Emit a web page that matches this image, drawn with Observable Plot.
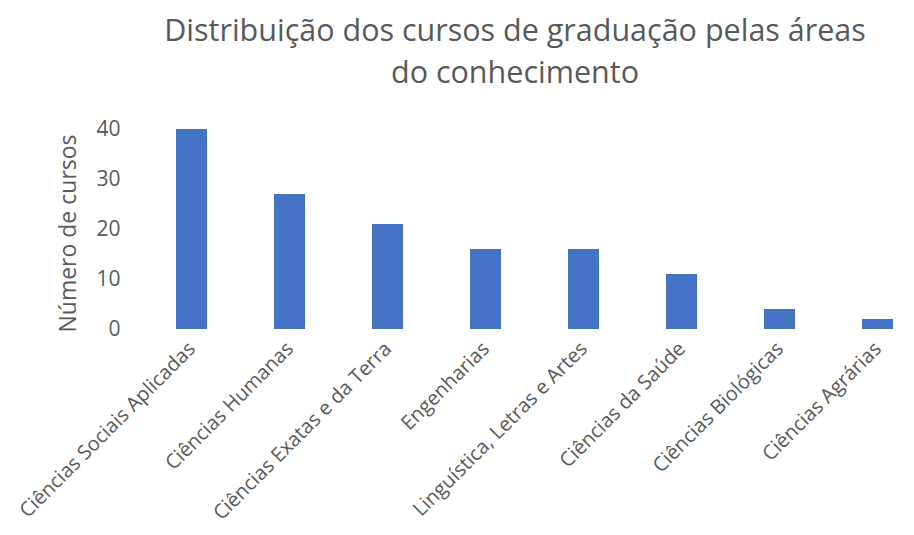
<!DOCTYPE html>
<html>
<head>
<meta charset="utf-8">
<script src="https://cdn.jsdelivr.net/npm/d3@7"></script>
<script src="https://cdn.jsdelivr.net/npm/@observablehq/plot@0.6"></script>
<style>
  html, body { margin: 0; padding: 0; background: #fff; }
  #wrap { width: 914px; height: 535px; overflow: hidden; position: relative; }
  #title { position: absolute; left: 0; top: 0; width: 1030px; height: 100px; text-align: center;
    font-family: "Open Sans", sans-serif; font-size: 30.5px; line-height: 42px; color: #595959; padding-top: 8px; box-sizing: border-box; }
  #chart { position: absolute; left: 0; top: 100px; }
</style>
</head>
<body>
<div id="wrap">
  <div id="title">Distribuição dos cursos de graduação pelas áreas<br>do conhecimento</div>
  <div id="chart"></div>
</div>
<script>
const categories = ["Ciências Sociais Aplicadas", "Ciências Humanas", "Ciências Exatas e da Terra", "Engenharias", "Linguística, Letras e Artes", "Ciências da Saúde", "Ciências Biológicas", "Ciências Agrárias"];
const values = [40, 27, 21, 16, 16, 11, 4, 2];
const yTicks = [0, 10, 20, 30, 40];

const data = categories.map((c, i) => ({category: c, value: values[i]}));

const chart = Plot.plot({
  width: 914,
  height: 435,
  marginTop: 29,
  marginBottom: 206,
  marginLeft: 142,
  marginRight: 0,
  style: {fontFamily: "Open Sans, sans-serif", color: "#595959", background: "#fff", overflow: "visible"},
  x: {domain: categories, range: [142, 926], paddingInner: 0.684, paddingOuter: 0.342, label: null},
  y: {domain: [0, 40], ticks: yTicks, label: null},
  marks: [
    Plot.ruleY(yTicks, {stroke: "#D9D9D9", strokeWidth: 1.5, x1: 142, x2: 926}),
    Plot.barY(data, {x: "category", y: "value", fill: "#4472C4"}),
    Plot.axisY({ticks: yTicks, tickSize: 0, tickPadding: 22, fontSize: 21, fill: "#595959", label: null}),
    Plot.axisX({tickSize: 0, tickRotate: -45, tickPadding: 16, fontSize: 20, fill: "#595959", label: null}),
    Plot.text(["Número de cursos"], {frameAnchor: "left", textAnchor: "middle", dx: -74, dy: 4, rotate: -90, fontSize: 23, fill: "#595959"})
  ]
});
document.getElementById("chart").appendChild(chart);
</script>
</body>
</html>
